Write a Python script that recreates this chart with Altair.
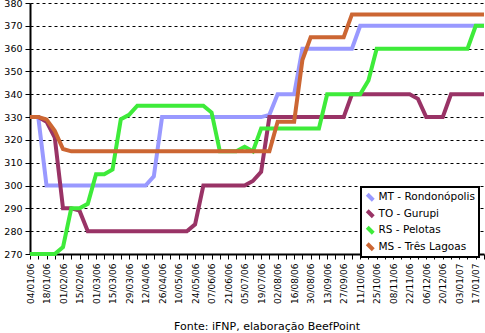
import altair as alt
import pandas as pd

weeks = list(pd.date_range("2006-01-04", periods=56, freq="7D").strftime("%d/%m/%y"))

series_names = ["MT - Rondonópolis", "TO - Gurupi", "RS - Pelotas", "MS - Três Lagoas"]
series_colors = ["#9999FF", "#993366", "#3EEB3A", "#CC6633"]

mt = [330, 330, 300, 300, 300, 300, 300, 300, 300, 300, 300, 300, 300, 300, 300, 304,
      330, 330, 330, 330, 330, 330, 330, 330, 330, 330, 330, 330, 330, 331, 340, 340,
      340, 360, 360, 360, 360, 360, 360, 360, 370, 370, 370, 370, 370, 370, 370, 370,
      370, 370, 370, 370, 370, 370, 370, 370]
to = [330, 330, 328, 321, 290, 290, 289, 280, 280, 280, 280, 280, 280, 280, 280, 280,
      280, 280, 280, 280, 283, 300, 300, 300, 300, 300, 300, 302, 306, 330, 330, 330,
      330, 330, 330, 330, 330, 330, 330, 340, 340, 340, 340, 340, 340, 340, 340, 338,
      330, 330, 330, 340, 340, 340, 340, 340]
rs = [270, 270, 270, 270, 273, 290, 290, 292, 305, 305, 307, 329, 331, 335, 335, 335,
      335, 335, 335, 335, 335, 335, 332, 315, 315, 315, 317, 315, 325, 325, 325, 325,
      325, 325, 325, 325, 340, 340, 340, 340, 340, 346, 360, 360, 360, 360, 360, 360,
      360, 360, 360, 360, 360, 360, 370, 370]
ms = [330, 330, 329, 324, 316, 315, 315, 315, 315, 315, 315, 315, 315, 315, 315, 315,
      315, 315, 315, 315, 315, 315, 315, 315, 315, 315, 315, 315, 315, 315, 328, 328,
      328, 355, 365, 365, 365, 365, 365, 375, 375, 375, 375, 375, 375, 375, 375, 375,
      375, 375, 375, 375, 375, 375, 375, 375]

y_ticks = list(range(270, 381, 10))

rows = []
for name, vals in zip(series_names, [mt, to, rs, ms]):
    for i, v in enumerate(vals):
        rows.append({"i": i, "week": weeks[i], "serie": name, "valor": v})
df = pd.DataFrame(rows)

labels = [w if (k % 2 == 0) else "" for k, w in enumerate(weeks)]
label_js = "[" + ",".join("'" + s + "'" for s in labels) + "]"

FONT = "DejaVu Sans"

chart = alt.Chart(df).mark_line(strokeWidth=4, strokeJoin="miter").encode(
    x=alt.X("i:Q",
            scale=alt.Scale(domain=[0, len(weeks) - 1], nice=False, zero=False),
            axis=alt.Axis(values=list(range(len(weeks))), labelExpr=label_js + "[datum.value]",
                          labelAngle=-90, grid=False, title=None, labelFontSize=9,
                          labelFont=FONT, labelColor="black", tickColor="black",
                          domainColor="black", domainWidth=2, tickSize=5, labelPadding=4,
                          labelOverlap=False, labelBound=False, labelFlush=False)),
    y=alt.Y("valor:Q",
            scale=alt.Scale(domain=[270, 380], nice=False, zero=False),
            axis=alt.Axis(values=y_ticks, title=None, grid=True, gridColor="black",
                          gridDash=[3, 3], gridWidth=1, gridOpacity=1, labelFontSize=9.5,
                          labelFont=FONT, labelColor="black", tickColor="black",
                          domainColor="black", domainWidth=2, tickSize=5, labelPadding=3)),
    color=alt.Color("serie:N",
                    scale=alt.Scale(domain=series_names, range=series_colors),
                    sort=series_names,
                    legend=alt.Legend(title=None, orient="none", legendX=331, legendY=184,
                                      symbolType="M-1,-1L1,1", symbolSize=36,
                                      symbolStrokeWidth=4, labelFontSize=10.5, labelFont=FONT,
                                      labelColor="black", padding=4, rowPadding=3.5,
                                      clipHeight=12.5,
                                      strokeColor="black", fillColor="white",
                                      labelOffset=3)),
    order=alt.Order("i:Q"),
).properties(
    width=454, height=251,
    autosize=alt.AutoSizeParams(type="none"),
    padding={"left": 30, "top": 3, "right": 1, "bottom": 79},
    title=alt.TitleParams("Fonte: iFNP, elaboração BeefPoint", orient="bottom",
                          anchor="middle", fontSize=11, font=FONT, fontWeight="normal",
                          color="black", offset=18, dx=10),
).configure_view(stroke=None).configure_legend(strokeWidth=2)

chart.save("out.html", embed_options={"renderer": "svg", "actions": False})
